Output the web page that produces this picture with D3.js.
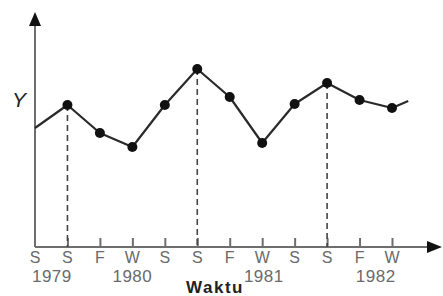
<!DOCTYPE html>
<html><head><meta charset="utf-8">
<script src="https://cdn.jsdelivr.net/npm/d3@7"></script>
<style>html,body{margin:0;padding:0;background:#fff;overflow:hidden}</style>
</head><body>
<svg id="c" width="443" height="296"></svg>
<script>
const seasons = ["S","S","F","W","S","S","F","W","S","S","F","W"];
const years = ["1979","1980","1981","1982"];
const yearPos = [0.52, 3.0, 7.05, 10.5];
const xIdx = [0,1,2,3,4,5,6,7,8,9,10,11,11.5];
const yVals = [119,142,114,100,142,178,150,104,143,164,147,139,146];
const dotIdx = [1,2,3,4,5,6,7,8,9,10,11];
const peakIdx = [1,5,9];

const svg = d3.select("#c");
const x = d3.scaleLinear().domain([0,11]).range([35,392]);
const y = d3.scaleLinear().domain([0,234]).range([247,13]);
const axisCol = "#6e6e6e";

// axes lines
svg.append("line").attr("x1",x(0)).attr("x2",428).attr("y1",y(0)).attr("y2",y(0))
  .attr("stroke",axisCol).attr("stroke-width",2);
svg.append("line").attr("x1",x(0)).attr("x2",x(0)).attr("y1",y(0)).attr("y2",25)
  .attr("stroke",axisCol).attr("stroke-width",2);
// arrows
svg.append("path").attr("d",`M${x(0)-6},26 L${x(0)},12 L${x(0)+6},26 Z`).attr("fill","#111");
svg.append("path").attr("d",`M427,${y(0)-6} L442,${y(0)} L427,${y(0)+6} Z`).attr("fill","#111");

// ticks via axis
const ax = d3.axisBottom(x).tickValues(d3.range(1,12)).tickSize(-9).tickPadding(4)
  .tickFormat(()=> "");
const gAx = svg.append("g").attr("transform",`translate(0,${y(0)})`).call(ax);
gAx.select(".domain").remove();
gAx.selectAll(".tick line").attr("stroke",axisCol).attr("stroke-width",2);

// season labels
svg.append("g").selectAll("text").data(seasons).join("text")
  .attr("x",(d,i)=>x(i)).attr("y",263).attr("text-anchor","middle")
  .attr("font-family","Liberation Sans, Arial, sans-serif").attr("font-size",16)
  .attr("fill","#6a6a6a").text(d=>d);
svg.append("g").selectAll("text").data(years).join("text")
  .attr("x",(d,i)=>x(yearPos[i])).attr("y",282).attr("text-anchor","middle")
  .attr("font-family","Liberation Sans, Arial, sans-serif").attr("font-size",17)
  .attr("letter-spacing",0.5)
  .attr("fill","#6a6a6a").text(d=>d);

// axis titles
svg.append("text").attr("x",215).attr("y",293).attr("text-anchor","middle")
  .attr("font-family","Liberation Sans, Arial, sans-serif").attr("font-weight","bold")
  .attr("font-size",17).attr("letter-spacing",1.5).attr("fill","#222").text("Waktu");
svg.append("text").attr("x",19).attr("y",107).attr("text-anchor","middle")
  .attr("font-family","Liberation Sans, Arial, sans-serif").attr("font-style","italic")
  .attr("font-size",21).attr("fill","#222").text("Y");

// dashed lines
svg.append("g").selectAll("line").data(peakIdx).join("line")
  .attr("x1",i=>x(xIdx[i])).attr("x2",i=>x(xIdx[i]))
  .attr("y1",i=>y(yVals[i])).attr("y2",y(0))
  .attr("stroke","#444").attr("stroke-width",1.6).attr("stroke-dasharray","6,4");

// line
const line = d3.line().x((d,i)=>x(xIdx[i])).y(d=>y(d));
svg.append("path").datum(yVals).attr("d",line).attr("fill","none")
  .attr("stroke","#2a2a2a").attr("stroke-width",2.2).attr("stroke-linejoin","round");

// dots
svg.append("g").selectAll("circle").data(dotIdx).join("circle")
  .attr("cx",i=>x(xIdx[i])).attr("cy",i=>y(yVals[i])).attr("r",5).attr("fill","#111");
</script>
</body></html>
